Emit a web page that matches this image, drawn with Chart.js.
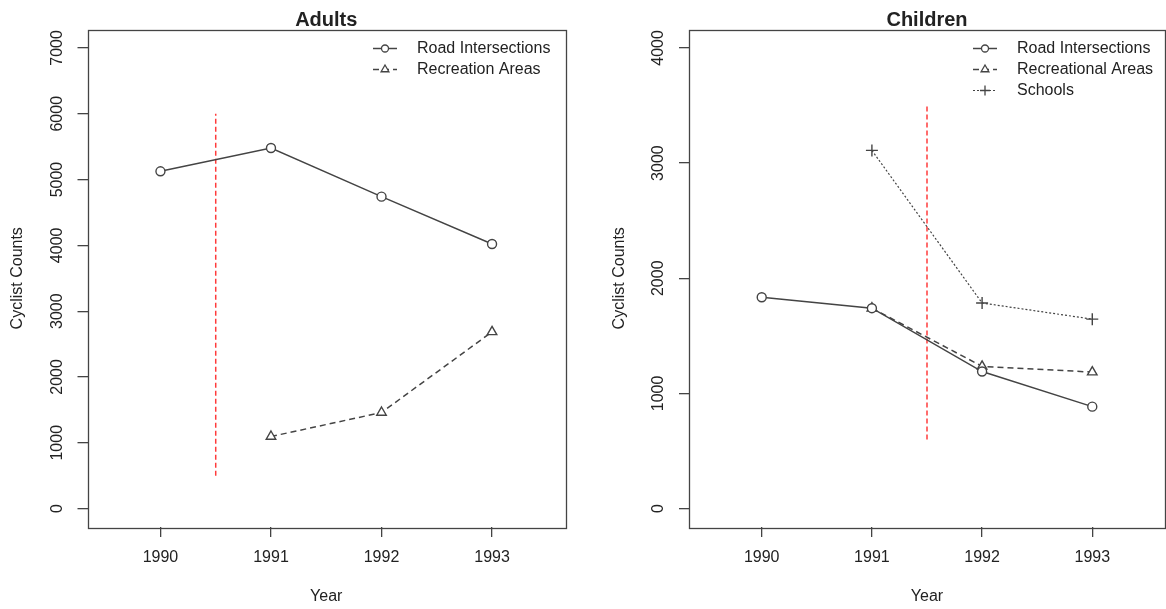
<!DOCTYPE html>
<html>
<head>
<meta charset="utf-8">
<script src="https://cdn.jsdelivr.net/npm/chart.js@4.4.1/dist/chart.umd.min.js"></script>
<style>
  body { margin: 0; background: #fff; }
  .panel { position: absolute; top: 0; width: 583px; height: 609px; }
</style>
</head>
<body>
<div class="panel" style="left:0"><canvas id="adults" width="583" height="609"></canvas></div>
<div class="panel" style="left:583px"><canvas id="children" width="583" height="609"></canvas></div>
<script>
// data
var years = [1990, 1991, 1992, 1993];

var adultsRoad = [5125, 5480, 4740, 4020];
var adultsRecreation = [null, 1095, 1460, 2685];
var adultsTicks = [0, 1000, 2000, 3000, 4000, 5000, 6000, 7000];
var adultsCutYear = 1990.5;
var adultsCutRange = [500, 6000];

var childrenRoad = [1835, 1740, 1190, 885];
var childrenRecreational = [null, 1740, 1235, 1185];
var childrenSchools = [null, 3110, 1785, 1645];
var childrenTicks = [0, 1000, 2000, 3000, 4000];
var childrenCutYear = 1991.5;
var childrenCutRange = [600, 3500];

var FONT = 'Liberation Sans, Arial, Helvetica, sans-serif';
var INK = '#222';
var LINE = '#444';

function points(values) {
  var out = [];
  for (var i = 0; i < years.length; i++) {
    if (values[i] !== null) out.push({ x: years[i], y: values[i] });
  }
  return out;
}

function series(label, values, style, dash, width) {
  return {
    label: label,
    data: points(values),
    borderColor: LINE,
    borderWidth: width,
    borderDash: dash,
    pointStyle: style,
    pointRadius: style === 'cross' ? 6 : (style === 'triangle' ? 5.5 : 4.5),
    pointBorderColor: LINE,
    pointBackgroundColor: '#fff',
    pointBorderWidth: 1.4,
    showInLegend: true
  };
}

function cutLine(year, range) {
  return {
    label: 'cut',
    data: [{ x: year, y: range[0] }, { x: year, y: range[1] }],
    borderColor: '#ff3b3b',
    borderWidth: 1.5,
    borderDash: [5, 3],
    pointRadius: 0,
    showInLegend: false
  };
}

// box, title, rotated y labels and R-like legend
var rStyle = {
  id: 'rStyle',
  afterDraw: function (chart) {
    var ctx = chart.ctx;
    var a = chart.chartArea;
    var o = chart.options.plugins.rStyle;
    ctx.save();
    ctx.strokeStyle = LINE;
    ctx.lineWidth = 1.3;
    ctx.strokeRect(Math.round(a.left) + 0.5, Math.round(a.top) + 0.5,
      Math.round(a.right - a.left), Math.round(a.bottom - a.top));

    // title over the plot box
    ctx.fillStyle = INK;
    ctx.font = 'bold 20px ' + FONT;
    ctx.textAlign = 'center';
    ctx.textBaseline = 'alphabetic';
    ctx.fillText(o.title, (a.left + a.right) / 2, 26);

    // y tick labels, parallel to the axis
    var ys = chart.scales.y;
    ctx.font = '16px ' + FONT;
    ctx.textBaseline = 'middle';
    ys.ticks.forEach(function (t) {
      ctx.save();
      ctx.translate(a.left - 30, ys.getPixelForValue(t.value));
      ctx.rotate(-Math.PI / 2);
      ctx.fillText(String(t.value), 0, 0);
      ctx.restore();
    });

    // legend
    var row = 0;
    ctx.textAlign = 'left';
    chart.data.datasets.forEach(function (ds) {
      if (!ds.showInLegend) return;
      var y = a.top + 19 + row * 21;
      ctx.strokeStyle = LINE;
      ctx.lineWidth = ds.borderWidth;
      ctx.setLineDash(ds.borderDash || []);
      ctx.beginPath();
      ctx.moveTo(a.right - 192, y);
      ctx.lineTo(a.right - 168, y);
      ctx.stroke();
      ctx.setLineDash([]);
      ctx.fillStyle = '#fff';
      ctx.lineWidth = 1.3;
      Chart.helpers.drawPoint(ctx, {
        pointStyle: ds.pointStyle, radius: ds.pointRadius - 1, rotation: 0, borderWidth: 1.3
      }, a.right - 180, y);
      ctx.fillStyle = INK;
      ctx.fillText(ds.label, a.right - 148, y);
      row++;
    });
    ctx.restore();
  }
};

function makeChart(id, title, datasets, ticks, yMin, yMax, yWidth, yTitlePad, rightPad) {
  return new Chart(document.getElementById(id).getContext('2d'), {
    type: 'line',
    data: { datasets: datasets },
    plugins: [rStyle],
    options: {
      responsive: false,
      animation: false,
      layout: { autoPadding: false, padding: { left: 0, right: rightPad, top: 29.5, bottom: 0 } },
      plugins: {
        legend: { display: false },
        tooltip: { enabled: false },
        title: { display: false },
        rStyle: { title: title }
      },
      scales: {
        x: {
          type: 'linear',
          min: 1989.34, max: 1993.66,
          afterBuildTicks: function (s) { s.ticks = years.map(function (v) { return { value: v }; }); },
          afterFit: function (s) { s.height = 82; s.paddingLeft = 0; s.paddingRight = 0; },
          border: { display: false },
          grid: { drawOnChartArea: false, drawTicks: true, tickLength: 10, color: LINE, lineWidth: 1.3 },
          ticks: { color: INK, font: { family: FONT, size: 16 }, padding: 11, callback: function (v) { return String(v); } },
          title: { display: true, text: 'Year', color: INK, font: { family: FONT, size: 16 }, padding: { bottom: 3 } }
        },
        y: {
          type: 'linear',
          min: yMin, max: yMax,
          afterBuildTicks: function (s) { s.ticks = ticks.map(function (v) { return { value: v }; }); },
          afterFit: function (s) { s.width = yWidth; },
          border: { display: false },
          grid: { drawOnChartArea: false, drawTicks: true, tickLength: 10, color: LINE, lineWidth: 1.3 },
          ticks: { display: false },
          title: { display: true, text: 'Cyclist Counts', color: INK, font: { family: FONT, size: 16 }, padding: { top: yTitlePad } }
        }
      }
    }
  });
}

makeChart('adults', 'Adults', [
  series('Road Intersections', adultsRoad, 'circle', [], 1.5),
  series('Recreation Areas', adultsRecreation, 'triangle', [6, 4], 1.5),
  cutLine(adultsCutYear, adultsCutRange)
], adultsTicks, -280, 7280, 87.5, 8, 18);

makeChart('children', 'Children', [
  series('Road Intersections', childrenRoad, 'circle', [], 1.5),
  series('Recreational Areas', childrenRecreational, 'triangle', [6, 4], 1.5),
  series('Schools', childrenSchools, 'cross', [2, 2], 1.2),
  cutLine(childrenCutYear, childrenCutRange)
], childrenTicks, -160, 4160, 106, 27, 1);
</script>
</body>
</html>
